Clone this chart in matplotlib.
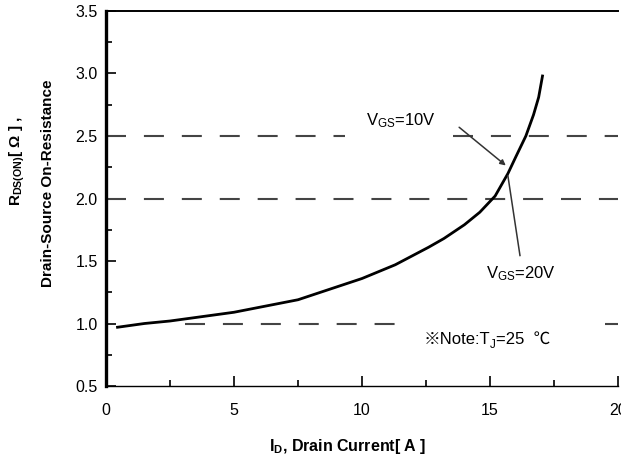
import numpy as np
import matplotlib
matplotlib.use('Agg')
import matplotlib.pyplot as plt
from matplotlib.ticker import MultipleLocator
from matplotlib.transforms import offset_copy

plt.rcParams['font.family'] = ['Liberation Sans', 'Noto Sans CJK SC', 'DejaVu Sans']
plt.rcParams['mathtext.fontset'] = 'custom'
plt.rcParams['mathtext.rm'] = 'Liberation Sans'
plt.rcParams['mathtext.it'] = 'Liberation Sans'
plt.rcParams['mathtext.bf'] = 'Liberation Sans:bold'

# 曲线数据
current = [0.45, 1.5, 2.5, 5.0, 7.5, 10.0, 11.3, 12.6, 13.2, 14.0, 14.6, 15.2,
           15.7, 16.0, 16.4, 16.7, 16.9, 17.05]
resistance = [0.97, 1.0, 1.02, 1.09, 1.19, 1.36, 1.47, 1.61, 1.68, 1.79, 1.89, 2.02,
              2.2, 2.33, 2.5, 2.67, 2.81, 2.98]

# 虚线参考线 (y, 分段的x范围)
ref_levels = [2.5, 2.5, 2.0, 1.0, 1.0]
ref_x0 = [0.0, 13.55, 0.0, 3.1, 19.5]
ref_x1 = [9.33, 20.0, 20.0, 11.4, 20.0]

fig = plt.figure(figsize=(6.21, 4.68), dpi=100)
ax = fig.add_axes([0.1707, 0.1752, 0.8245, 0.8013])

dash = (0, (9.6, 8.6))
for y, a, b in zip(ref_levels, ref_x0, ref_x1):
    ax.plot([a, b], [y, y], color='#444444', lw=1.5, linestyle=dash)

ax.plot(current, resistance, color='black', lw=2.0)

# 标注
ax.annotate('', xy=(15.7, 2.25), xytext=(13.71, 2.584),
            arrowprops=dict(arrowstyle='-|>', color='#333333', lw=1.1,
                            mutation_scale=8))
ax.plot([15.7, 16.17], [2.18, 1.544], color='#333333', lw=1.1)
ax.text(11.52, 2.62, r'V$_{\rm GS}$=10V', fontsize=12, ha='center', va='center')
ax.text(16.21, 1.40, r'V$_{\rm GS}$=20V', fontsize=12, ha='center', va='center')

# ※Note:T_J=25 ℃ 分段写, 避免mathtext缺字
nx, ny = 15.0, 0.87
ax.text(nx, ny, '※Note:T', fontsize=12, ha='right', va='center',
        family=['Liberation Sans', 'Noto Sans CJK SC'])
ax.text(nx, ny, 'J', fontsize=8.5, ha='left', va='center',
        transform=offset_copy(ax.transData, fig=fig, x=0, y=-3.5, units='points'))
ax.text(nx, ny, '=25  ℃', fontsize=12, ha='left', va='center',
        family=['Liberation Sans', 'Noto Sans CJK SC'],
        transform=offset_copy(ax.transData, fig=fig, x=4.5, y=0, units='points'))

ax.set_xlim(0, 20)
ax.set_ylim(0.5, 3.5)
ax.xaxis.set_major_locator(MultipleLocator(5))
ax.xaxis.set_minor_locator(MultipleLocator(2.5))
ax.yaxis.set_minor_locator(MultipleLocator(0.25))
ax.set_yticks([0.5, 1.0, 1.5, 2.0, 2.5, 3.0, 3.5])
ax.set_yticklabels(['0.5', '1.0', '1.5', '2.0', '2.5', '3.0', '3.5'])
ax.tick_params(which='major', direction='in', length=7, width=1.2, labelsize=11.5, pad=6)
ax.tick_params(which='minor', direction='in', length=4, width=1.2)
ax.tick_params(axis='x', pad=12)

ax.spines['right'].set_visible(False)
ax.spines['left'].set_linewidth(2.4)
ax.spines['top'].set_linewidth(1.4)
ax.spines['bottom'].set_linewidth(1.0)

fig.text(0.0274, 0.656, r'$\mathbf{R_{DS(ON)}}$[ Ω ] ,', rotation=90, fontsize=11,
         fontweight='bold', ha='center', va='center')
fig.text(0.0773, 0.609, 'Drain-Source On-Resistance', rotation=90, fontsize=11,
         fontweight='bold', ha='center', va='center')
fig.text(0.56, 0.045, r'$\mathbf{I_{D}}$, Drain Current[ A ]', fontsize=11.5,
         fontweight='bold', ha='center', va='center')

fig.savefig('out.png', dpi=100)
